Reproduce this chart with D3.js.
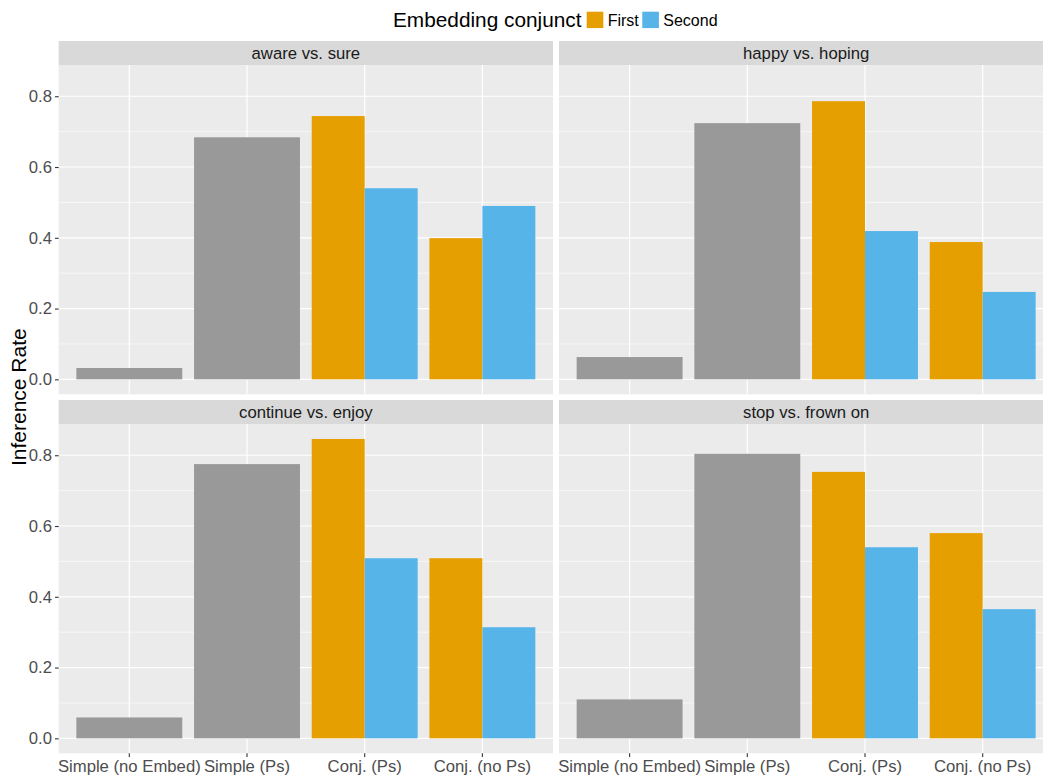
<!DOCTYPE html>
<html>
<head>
<meta charset="utf-8">
<script src="https://cdn.jsdelivr.net/npm/d3@7"></script>
<style>
  body { margin: 0; background: #fff; }
  svg text { font-family: "Liberation Sans", Arial, Helvetica, sans-serif; }
</style>
</head>
<body>
<svg id="chart" width="1043" height="775"></svg>
<script>
/////////////////////////////////////////////////////////////////////////////////////
// Data
var facets = ["aware vs. sure", "happy vs. hoping", "continue vs. enjoy", "stop vs. frown on"];
var categories = ["Simple (no Embed)", "Simple (Ps)", "Conj. (Ps)", "Conj. (no Ps)"];
var conjuncts = ["First", "Second"];
// one value per facet, same order as facets
var simpleNoEmbed = [0.032, 0.063, 0.059, 0.110];
var simplePs      = [0.684, 0.724, 0.775, 0.804];
var conjPsFirst   = [0.744, 0.786, 0.846, 0.753];
var conjPsSecond  = [0.540, 0.419, 0.509, 0.540];
var conjNoPsFirst = [0.399, 0.388, 0.509, 0.580];
var conjNoPsSecond = [0.490, 0.247, 0.314, 0.365];
var yTicks = [0, 0.2, 0.4, 0.6, 0.8];
var yMinor = [0.1, 0.3, 0.5, 0.7];

var colors = { none: "#999999", First: "#E69F00", Second: "#56B4E9" };

// rows for the bars
function rowsFor(i) {
  return [
    { cat: categories[0], group: null, value: simpleNoEmbed[i] },
    { cat: categories[1], group: null, value: simplePs[i] },
    { cat: categories[2], group: "First", value: conjPsFirst[i] },
    { cat: categories[2], group: "Second", value: conjPsSecond[i] },
    { cat: categories[3], group: "First", value: conjNoPsFirst[i] },
    { cat: categories[3], group: "Second", value: conjNoPsSecond[i] }
  ];
}

/////////////////////////////////////////////////////////////////////////////////////
// Layout
var svg = d3.select("#chart");
var panel_w = 494.3, panel_h = 329.3, strip_h = 24;
var col_x = [58.7, 559];
var row_y = [41, 400]; // strip tops

var allValues = [].concat(simpleNoEmbed, simplePs, conjPsFirst, conjPsSecond, conjNoPsFirst, conjNoPsSecond);
var yMax = d3.max(allValues), yMinV = 0;
var pad = (yMax - yMinV) * 0.05;

var xScale = d3.scaleBand().domain(categories).range([0, panel_w]).paddingInner(0.1).paddingOuter(0.15);
var dodge = d3.scaleBand().domain(conjuncts).range([0, xScale.bandwidth()]).padding(0);
var yScale = d3.scaleLinear().domain([yMinV - pad, yMax + pad]).range([panel_h, 0]);

/////////////////////////////////////////////////////////////////////////////////////
// Panels
facets.forEach(function(name, i) {
  var col = i % 2, row = Math.floor(i / 2);
  var g = svg.append("g").attr("transform", "translate(" + col_x[col] + "," + row_y[row] + ")");

  // strip
  g.append("rect").attr("width", panel_w).attr("height", strip_h).attr("fill", "#D9D9D9");
  g.append("text")
    .attr("x", panel_w / 2).attr("y", strip_h / 2 + 6)
    .attr("text-anchor", "middle").attr("font-size", 16.7).attr("fill", "#1A1A1A")
    .text(name);

  var p = g.append("g").attr("transform", "translate(0," + strip_h + ")");
  p.append("rect").attr("width", panel_w).attr("height", panel_h).attr("fill", "#EBEBEB");

  p.selectAll(".minor").data(yMinor).enter().append("line")
    .attr("x1", 0).attr("x2", panel_w)
    .attr("y1", function(d) { return yScale(d); }).attr("y2", function(d) { return yScale(d); })
    .attr("stroke", "#fff").attr("stroke-width", 0.6);
  p.selectAll(".major").data(yTicks).enter().append("line")
    .attr("x1", 0).attr("x2", panel_w)
    .attr("y1", function(d) { return yScale(d); }).attr("y2", function(d) { return yScale(d); })
    .attr("stroke", "#fff").attr("stroke-width", 1.2);
  p.selectAll(".vgrid").data(categories).enter().append("line")
    .attr("x1", function(d) { return xScale(d) + xScale.bandwidth() / 2; })
    .attr("x2", function(d) { return xScale(d) + xScale.bandwidth() / 2; })
    .attr("y1", 0).attr("y2", panel_h)
    .attr("stroke", "#fff").attr("stroke-width", 1.2);

  // bars
  p.selectAll(".bar").data(rowsFor(i)).enter().append("rect")
    .attr("x", function(d) { return d.group ? xScale(d.cat) + dodge(d.group) : xScale(d.cat); })
    .attr("width", function(d) { return d.group ? dodge.bandwidth() : xScale.bandwidth(); })
    .attr("y", function(d) { return yScale(d.value); })
    .attr("height", function(d) { return yScale(0) - yScale(d.value); })
    .attr("fill", function(d) { return d.group ? colors[d.group] : colors.none; });

  // y axis on left column
  if (col === 0) {
    var ya = p.append("g").call(d3.axisLeft(yScale).tickValues(yTicks).tickFormat(d3.format(".1f")).tickSize(3.7).tickPadding(3));
    ya.select(".domain").remove();
    ya.selectAll("line").attr("stroke", "#333333").attr("stroke-width", 1.1);
    ya.selectAll("text").attr("font-size", 16.7).attr("fill", "#4D4D4D").attr("font-family", null);
  }
  // x axis on bottom row
  if (row === 1) {
    var xa = p.append("g").attr("transform", "translate(0," + panel_h + ")")
      .call(d3.axisBottom(xScale).tickSize(3.7).tickPadding(3));
    xa.select(".domain").remove();
    xa.selectAll("line").attr("stroke", "#333333").attr("stroke-width", 1.1);
    xa.selectAll("text").attr("font-size", 16.7).attr("fill", "#4D4D4D").attr("font-family", null);
  }
});

/////////////////////////////////////////////////////////////////////////////////////
// Axis title
svg.append("text")
  .attr("transform", "translate(26," + (row_y[0] + (row_y[1] + strip_h + panel_h - row_y[0]) / 2) + ") rotate(-90)")
  .attr("text-anchor", "middle").attr("font-size", 21).attr("fill", "#000")
  .text("Inference Rate");

// Legend
var legend = svg.append("g");
legend.append("text").attr("x", 393).attr("y", 27).attr("font-size", 20.8).attr("fill", "#000").text("Embedding conjunct");
var keyX = [586.7, 642.3];
conjuncts.forEach(function(c, k) {
  legend.append("rect").attr("x", keyX[k]).attr("y", 11.7).attr("width", 16.6).attr("height", 16.4).attr("fill", colors[c]);
  legend.append("text").attr("x", keyX[k] + 21).attr("y", 25.5).attr("font-size", 16).attr("fill", "#000").text(c);
});
</script>
</body>
</html>
